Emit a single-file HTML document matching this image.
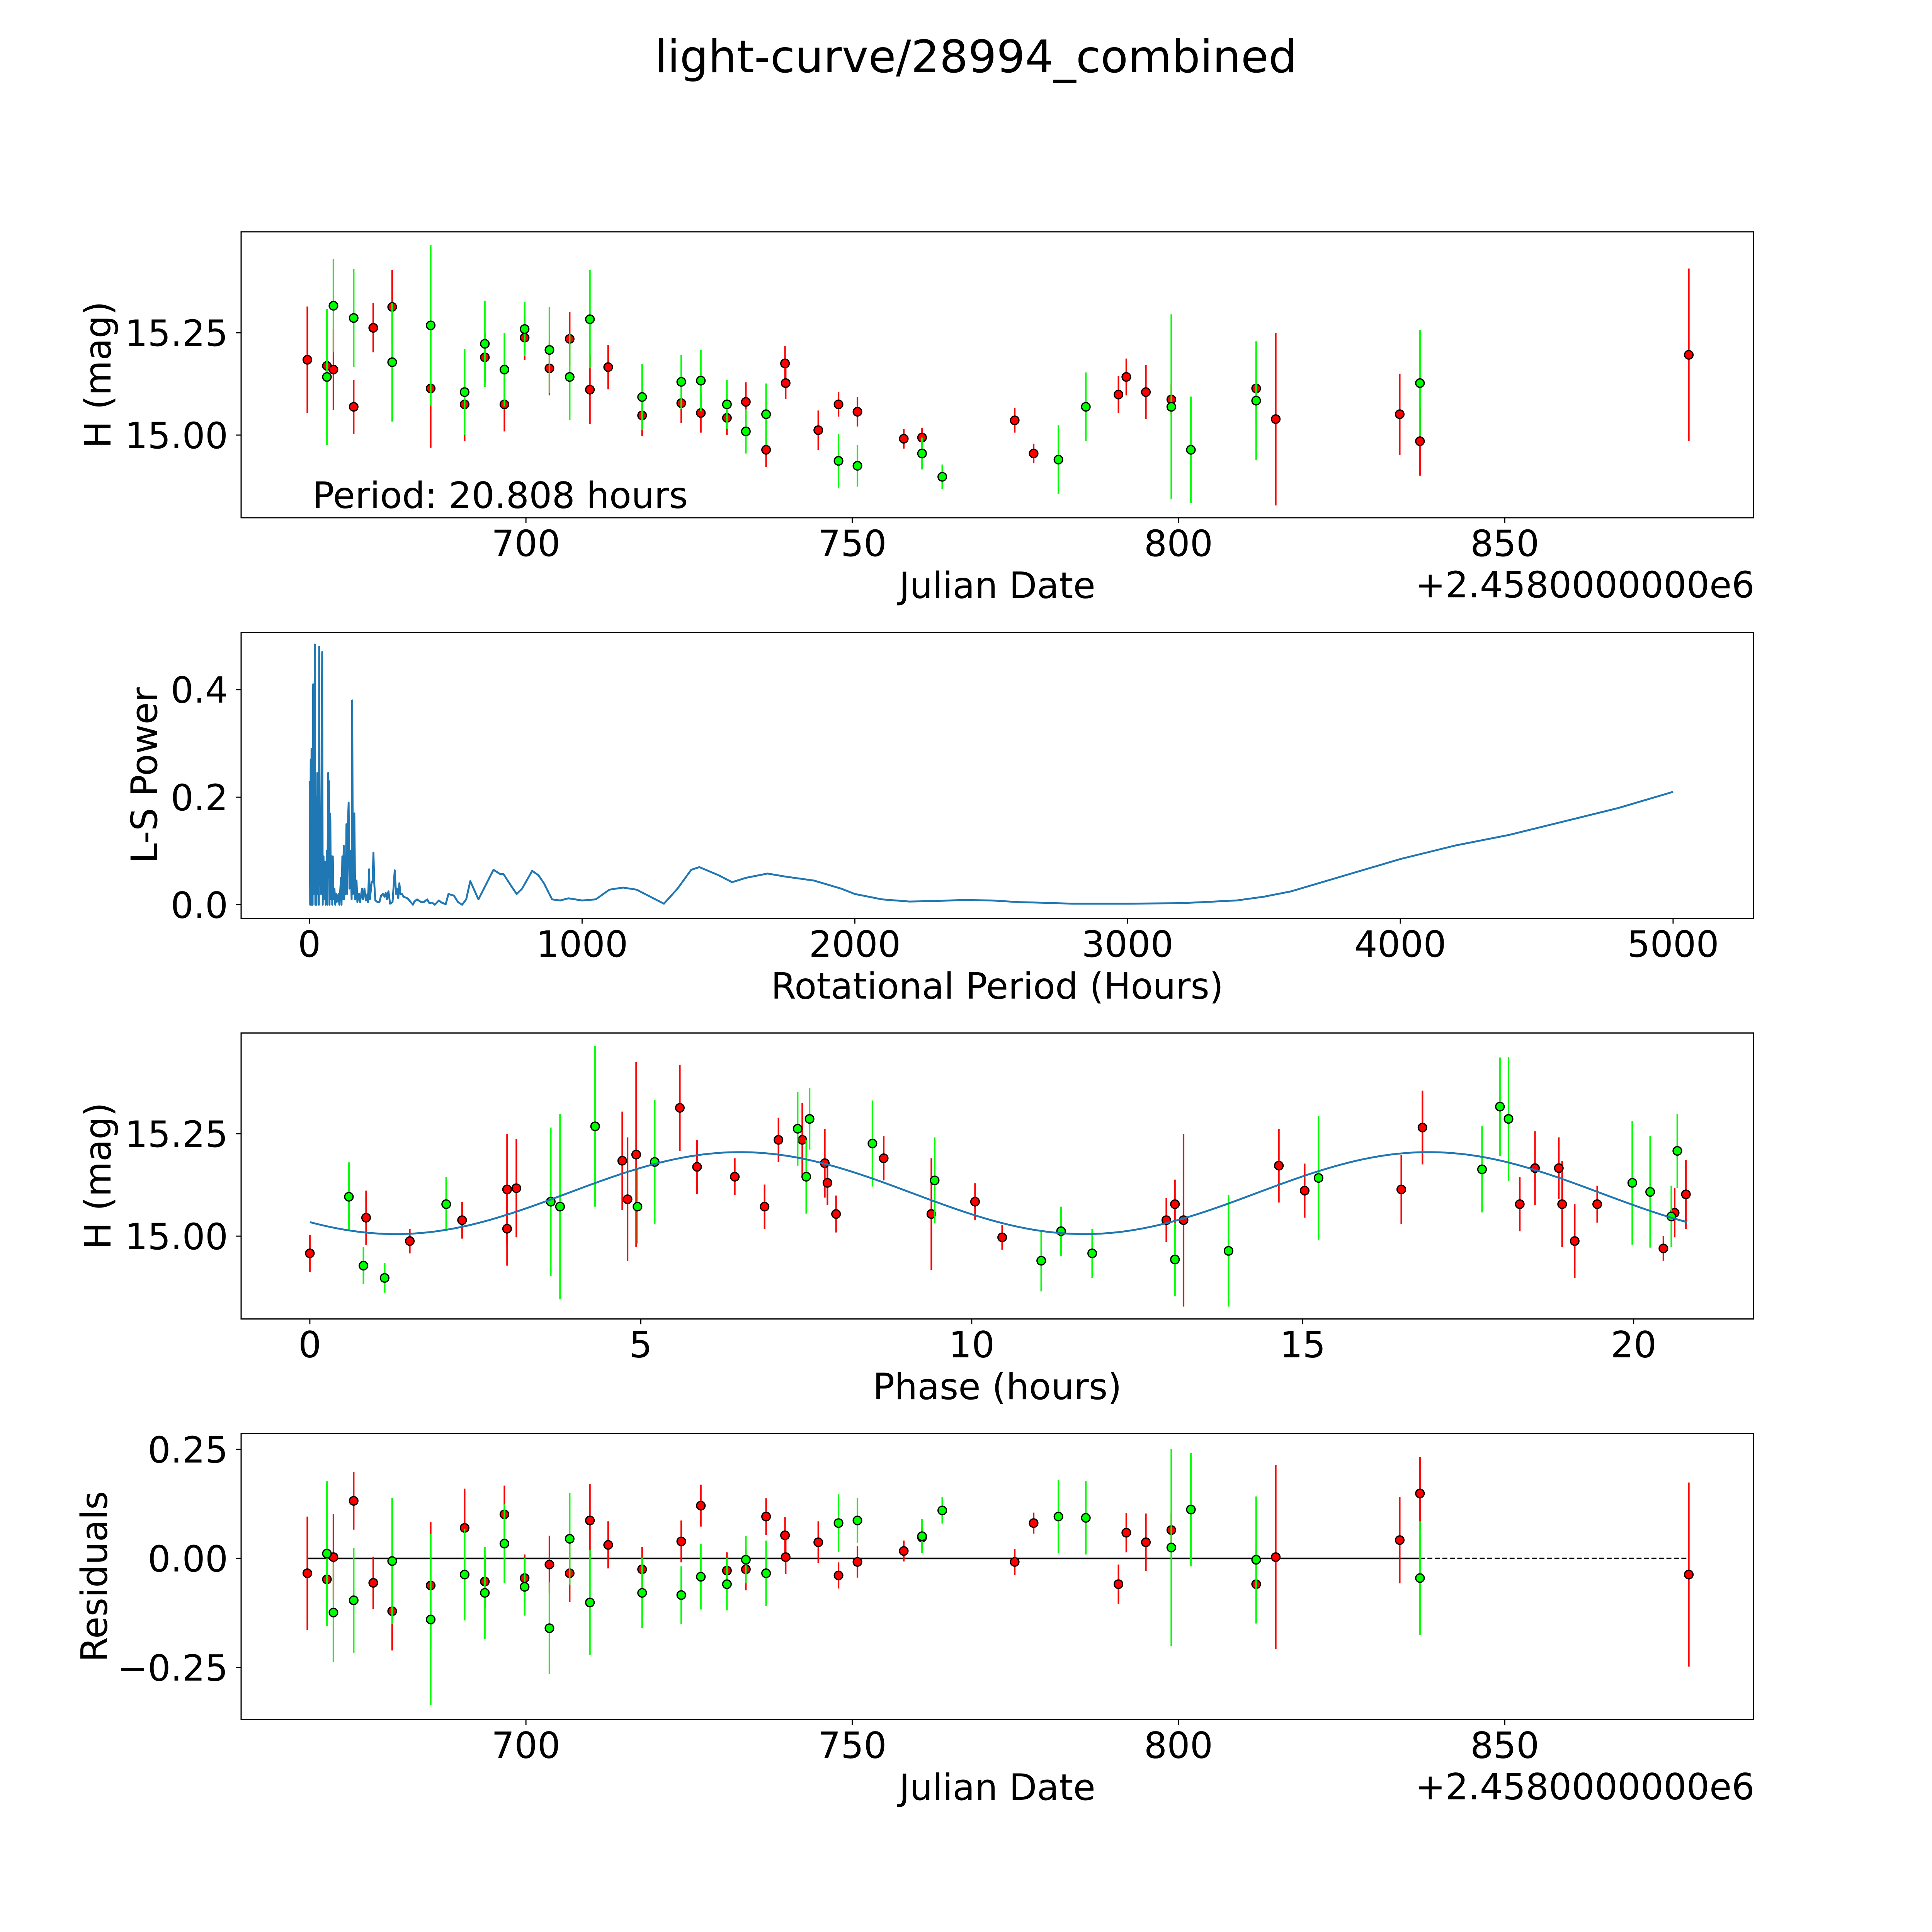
<!DOCTYPE html>
<html><head><meta charset="utf-8"><style>
html,body{margin:0;padding:0;background:#fff;width:100%;height:100%;overflow:hidden;}
svg{display:block;position:absolute;left:0;top:0;width:100vw;height:100vh;font-family:"DejaVu Sans","Liberation Sans",sans-serif;}
</style></head><body>
<svg id="fig" xmlns="http://www.w3.org/2000/svg" viewBox="0 0 5400 5400" preserveAspectRatio="none">
<rect x="0" y="0" width="5400" height="5400" fill="#fff"/>
<g transform="scale(3.4794)">
<text x="784" y="58" font-size="36" text-anchor="middle">light-curve/28994_combined</text>
<g id="p1"></g>
<g id="p2"></g>
<g id="p3"></g>
<g id="p4"></g>
</g>
</svg>
<script>
// ---- data (JD - 2458000) ----
const redDates=[666.5,669.5,670.5,673.6,676.6,679.5,685.4,690.6,693.7,696.7,699.8,703.6,706.7,709.8,712.6,717.8,723.8,726.8,730.8,733.7,736.8,739.7,739.8,744.8,747.9,750.8,757.9,760.7,774.9,777.8,790.8,792.0,795.0,798.9,811.9,814.9,833.9,837.0,878.2];
const redMags=[15.184,15.169,15.160,15.069,15.262,15.313,15.114,15.075,15.190,15.075,15.238,15.163,15.235,15.111,15.166,15.048,15.078,15.054,15.042,15.081,14.964,15.175,15.127,15.012,15.075,15.057,14.991,14.994,15.036,14.955,15.099,15.142,15.105,15.087,15.114,15.039,15.051,14.985,15.196];
const redErrs=[.130,.090,.099,.066,.060,.090,.145,.090,.060,.066,.054,.066,.066,.084,.054,.051,.048,.048,.042,.048,.042,.042,.039,.048,.030,.036,.024,.024,.030,.024,.045,.045,.066,.039,.090,.211,.099,.084,.211];
const redResid=[-.034,-.048,.003,.132,-.056,-.121,-.062,.070,-.053,.101,-.045,-.014,-.034,.087,.031,-.025,.039,.121,-.028,-.025,.096,.053,.003,.037,-.039,-.008,.017,.048,-.008,.081,-.059,.059,.037,.065,-.059,.003,.042,.149,-.037];
const greenDates=[669.5,670.5,673.6,679.5,685.4,690.6,693.7,696.7,699.8,703.6,706.7,709.8,717.8,723.8,726.8,730.8,733.7,736.8,747.9,750.8,760.7,763.8,781.6,785.8,798.9,801.9,811.9,837.0];
const greenMags=[15.142,15.316,15.286,15.178,15.268,15.105,15.223,15.160,15.259,15.208,15.142,15.283,15.093,15.130,15.133,15.075,15.009,15.051,14.937,14.925,14.955,14.898,14.940,15.069,15.069,14.964,15.084,15.127];
const greenErrs=[.166,.114,.120,.145,.196,.105,.105,.090,.066,.105,.105,.120,.081,.066,.075,.060,.054,.075,.066,.051,.039,.030,.084,.084,.226,.130,.145,.130];
const greenResid=[.011,-.124,-.096,-.006,-.140,-.037,-.079,.034,-.065,-.160,.045,-.101,-.079,-.084,-.042,-.059,-.003,-.034,.081,.087,.051,.110,.096,.093,.025,.112,-.003,-.045];
// phase-folded
const redPhase=[0.00,0.85,1.51,2.30,2.98,3.12,2.98,4.72,4.80,4.93,5.59,5.85,6.42,6.87,7.08,7.44,7.78,7.82,7.95,8.67,9.39,10.05,10.46,12.94,13.07,13.20,14.64,15.03,16.49,16.81,18.28,18.51,18.87,18.92,19.11,19.45,20.45,20.62,20.79];
const redPhaseMag=[14.958,15.045,14.988,15.039,15.114,15.117,15.018,15.184,15.090,15.199,15.313,15.169,15.145,15.072,15.235,15.235,15.178,15.130,15.054,15.190,15.054,15.084,14.997,15.039,15.078,15.039,15.172,15.111,15.114,15.265,15.078,15.166,15.166,15.078,14.988,15.078,14.970,15.057,15.102];
const redPhaseErr=[.045,.066,.030,.045,.136,.120,.090,.120,.151,.226,.105,.066,.045,.054,.054,.090,.084,.054,.045,.054,.136,.045,.030,.054,.060,.211,.090,.066,.084,.090,.066,.090,.075,.105,.090,.045,.030,.060,.084];
const greenPhase=[0.59,0.81,1.13,2.06,3.64,3.78,4.31,4.95,5.21,7.37,7.50,7.55,8.50,9.44,11.05,11.35,11.82,13.07,13.88,15.24,17.71,17.98,18.11,19.98,20.25,20.57,20.66];
const greenPhaseMag=[15.096,14.928,14.898,15.078,15.084,15.072,15.268,15.072,15.181,15.262,15.145,15.286,15.226,15.136,14.940,15.012,14.958,14.943,14.964,15.142,15.163,15.316,15.286,15.130,15.108,15.048,15.208];
const greenPhaseErr=[.084,.045,.036,.066,.181,.226,.196,.090,.151,.090,.090,.075,.105,.105,.075,.060,.060,.090,.136,.151,.105,.120,.151,.151,.136,.075,.090];
// fit parameters
const fitMean=[15.105];
const fitAmp=[0.100];
const fitPeriodHalf=[10.404];
const fitPeak=[6.5];
const foldPeriod=[20.808];
// periodogram
const lsPeriods=[1,3,5,7,8,10,11,12,14,16,20,22,24,26,29,31,33,35,36,38,41,43,47,49,52,55,58,60,64,66,69,70,72,74,75,76,77,79,82,84,86,88,92,95,98,100,107,110,116,118,121,123,126,128,131,133,136,138,142,144,147,150,155,157,160,165,168,170,173,176,182,186,193,197,202,207,213,215,219,222,228,232,235,238,242,250,257,263,270,276,280,284,290,296,305,313,318,322,326,330,334,340,345,360,380,385,395,410,420,432,440,450,460,475,485,500,510,530,545,560,575,590,620,650,675,700,712,740,760,780,817,840,860,890,920,950,1000,1050,1100,1150,1200,1250,1300,1350,1400,1430,1500,1550,1600,1680,1750,1850,1950,2000,2100,2200,2300,2400,2500,2600,2800,3000,3200,3400,3500,3600,3700,3800,4000,4200,4400,4600,4800,5000];
const lsPower=[0.23,0,0.27,0,0.29,0,0.28,0,0.41,0.02,0.484,0,0.2,0,0.245,0.02,0.12,0,0.48,0.1,0.05,0.02,0.47,0,0.09,0.01,0.08,0,0.1,0,0.245,0.05,0.23,0,0.17,0.01,0.16,0.01,0.09,0,0.09,0.01,0.03,0,0.02,0.005,0.02,0,0.05,0,0.09,0.01,0.11,0.01,0.09,0.02,0.15,0.02,0.16,0.19,0.03,0.1,0.01,0.38,0.02,0.17,0.01,0.02,0.045,0.005,0.02,0.005,0.03,0.01,0.03,0.008,0.02,0.005,0.066,0.01,0.04,0.045,0.097,0.04,0.008,0.005,0.005,0.017,0.02,0.015,0.022,0.01,0.025,0.002,0.005,0.064,0.02,0.03,0.012,0.04,0.02,0.02,0.015,0.012,0.0,0.006,0.01,0.005,0.005,0.01,0.003,0.004,0.0,0.008,0.004,0.001,0.02,0.017,0.005,0.0,0.01,0.044,0.01,0.04,0.065,0.057,0.057,0.035,0.02,0.03,0.063,0.055,0.04,0.01,0.008,0.012,0.008,0.01,0.028,0.032,0.028,0.015,0.002,0.03,0.065,0.07,0.055,0.042,0.05,0.058,0.052,0.045,0.03,0.02,0.01,0.006,0.007,0.009,0.008,0.005,0.002,0.002,0.003,0.008,0.015,0.025,0.04,0.055,0.085,0.11,0.13,0.155,0.18,0.21];
// ticks
const jdTicks=[700,750,800,850];
const magTicks=[15.00,15.25];
const magTickLabels=["15.00","15.25"];
const lsXTicks=[0,1000,2000,3000,4000,5000];
const lsYTicks=[0.0,0.2,0.4];
const lsYTickLabels=["0.0","0.2","0.4"];
const phaseTicks=[0,5,10,15,20];
const residTicks=[-0.25,0,0.25];
const residTickLabels=["\u22120.25","0.00","0.25"];

const NS="http://www.w3.org/2000/svg";
function mk(parent,tag,attrs,text){const e=document.createElementNS(NS,tag);for(const k in attrs)e.setAttribute(k,attrs[k]);if(text!==undefined)e.textContent=text;parent.appendChild(e);return e;}
const L=193.7,R=1408.5;
const tops=[186.2,508.0,829.8,1151.6],H=229.7;
const xJD=d=>422.5+(d-700)*5.242;
const yMag1=m=>349.5-(m-15)*328.8;
const xLS=p=>248.5+p*0.2191;
const yLS=v=>726.8-v*432;
const xPh=p=>248.9+p*53.17;
const yMag3=m=>993.0-(m-15)*329.2;
const yRes=r=>1251.9-r*350.4;
const FS=29;

function frame(g,i){
  const r=mk(g,'rect',{x:L,y:tops[i],width:R-L,height:H,fill:'none',stroke:'#000','stroke-width':0.95});
  
  
}
function xTicks(g,i,vals,fx,labels){
  const b=tops[i]+H;
  vals.forEach((v,k)=>{
    const x=fx(v);
    const t=mk(g,'line',{x1:x,x2:x,y1:b,y2:b+4.3,stroke:'#000','stroke-width':0.9});
    
    
    const tx=mk(g,'text',{x:x,y:b+30.8,'font-size':FS,'text-anchor':'middle'},labels?labels[k]:String(v));
    
    
  });
}
function yTicks(g,vals,fy,labels){
  vals.forEach((v,k)=>{
    const y=fy(v);
    const t=mk(g,'line',{x1:L-4.3,x2:L,y1:y,y2:y,stroke:'#000','stroke-width':0.9});
    
    
    const tx=mk(g,'text',{x:L-10.5,y:y+10.5,'font-size':FS,'text-anchor':'end'},labels[k]);
    
    
  });
}
function xLabel(g,i,txt){
  const t=mk(g,'text',{x:(L+R)/2,y:tops[i]+H+64.5,'font-size':FS,'text-anchor':'middle'},txt);
  
  
}
function yLabel(g,i,txt,bx){
  const cy=tops[i]+H/2;
  const t=mk(g,'text',{x:bx,y:cy,'font-size':FS,'text-anchor':'middle',transform:`rotate(-90 ${bx} ${cy})`},txt);
  
  
}
function offsetText(g,i){
  const t=mk(g,'text',{x:R+1,y:tops[i]+H+64,'font-size':FS,'text-anchor':'end'},'+2.4580000000e6');
  
  
}
function points(g,xs,ys,es,fx,fy,scaleY,color,name){
  const gb=mk(g,'g',{});
  
  
  xs.forEach((xv,k)=>{
    const x=fx(xv),y=fy(ys[k]),e=es[k]*scaleY;
    const l=mk(gb,'line',{x1:x,x2:x,y1:y-e,y2:y+e,stroke:color,'stroke-width':1.3});
    
    
  });
  xs.forEach((xv,k)=>{
    const c=mk(gb,'circle',{cx:fx(xv),cy:fy(ys[k]),r:3.4,fill:color,stroke:'#000','stroke-width':1.0});
    
    
  });
}

// Panel 1
const g1=document.getElementById('p1');
points(g1,redDates,redMags,redErrs,xJD,yMag1,328.8,'#ff0000','red-band');
points(g1,greenDates,greenMags,greenErrs,xJD,yMag1,328.8,'#00ff00','green-band');
frame(g1,0);
xTicks(g1,0,jdTicks,xJD);
yTicks(g1,magTicks,yMag1,magTickLabels);
xLabel(g1,0,'Julian Date');
offsetText(g1,0);
yLabel(g1,0,'H (mag)',88.8);
const pt=mk(g1,'text',{x:251,y:408,'font-size':FS},'Period: '+foldPeriod[0].toFixed(3)+' hours');



// Panel 2
const g2=document.getElementById('p2');
let d='';
lsPeriods.forEach((p,k)=>{d+=(k?'L':'M')+xLS(p).toFixed(2)+' '+yLS(lsPower[k]).toFixed(2);});
const pl=mk(g2,'path',{d:d,fill:'none',stroke:'#1f77b4','stroke-width':1.5,'stroke-linejoin':'round'});


frame(g2,1);
xTicks(g2,1,lsXTicks,xLS);
yTicks(g2,lsYTicks,yLS,lsYTickLabels);
xLabel(g2,1,'Rotational Period (Hours)');
yLabel(g2,1,'L-S Power',126);

// Panel 3
const g3=document.getElementById('p3');
points(g3,redPhase,redPhaseMag,redPhaseErr,xPh,yMag3,329.2,'#ff0000','red-phase');
points(g3,greenPhase,greenPhaseMag,greenPhaseErr,xPh,yMag3,329.2,'#00ff00','green-phase');
let d3='';
for(let k=0;k<=200;k++){const ph=foldPeriod[0]*k/200;const m=fitMean[0]+fitAmp[0]*Math.cos(2*Math.PI*(ph-fitPeak[0])/fitPeriodHalf[0]);d3+=(k?'L':'M')+xPh(ph).toFixed(2)+' '+yMag3(m).toFixed(2);}
const fl=mk(g3,'path',{d:d3,fill:'none',stroke:'#1f77b4','stroke-width':1.5});


frame(g3,2);
xTicks(g3,2,phaseTicks,xPh);
yTicks(g3,magTicks,yMag3,magTickLabels);
xLabel(g3,2,'Phase (hours)');
yLabel(g3,2,'H (mag)',88.8);

// Panel 4
const g4=document.getElementById('p4');
const lastG=Math.max(...greenDates), firstD=Math.min(...redDates,...greenDates), lastD=Math.max(...redDates,...greenDates);
const z1=mk(g4,'line',{x1:xJD(firstD),x2:xJD(lastG),y1:yRes(0),y2:yRes(0),stroke:'#000','stroke-width':1.3});


const z2=mk(g4,'line',{x1:xJD(lastG),x2:xJD(lastD),y1:yRes(0),y2:yRes(0),stroke:'#000','stroke-width':1.1,'stroke-dasharray':'4 2'});


points(g4,redDates,redResid,redErrs,xJD,yRes,350.4,'#ff0000','red-residual');
points(g4,greenDates,greenResid,greenErrs,xJD,yRes,350.4,'#00ff00','green-residual');
frame(g4,3);
xTicks(g4,3,jdTicks,xJD);
yTicks(g4,residTicks,yRes,residTickLabels);
xLabel(g4,3,'Julian Date');
offsetText(g4,3);
yLabel(g4,3,'Residuals',85.9);
</script>
</body></html>
